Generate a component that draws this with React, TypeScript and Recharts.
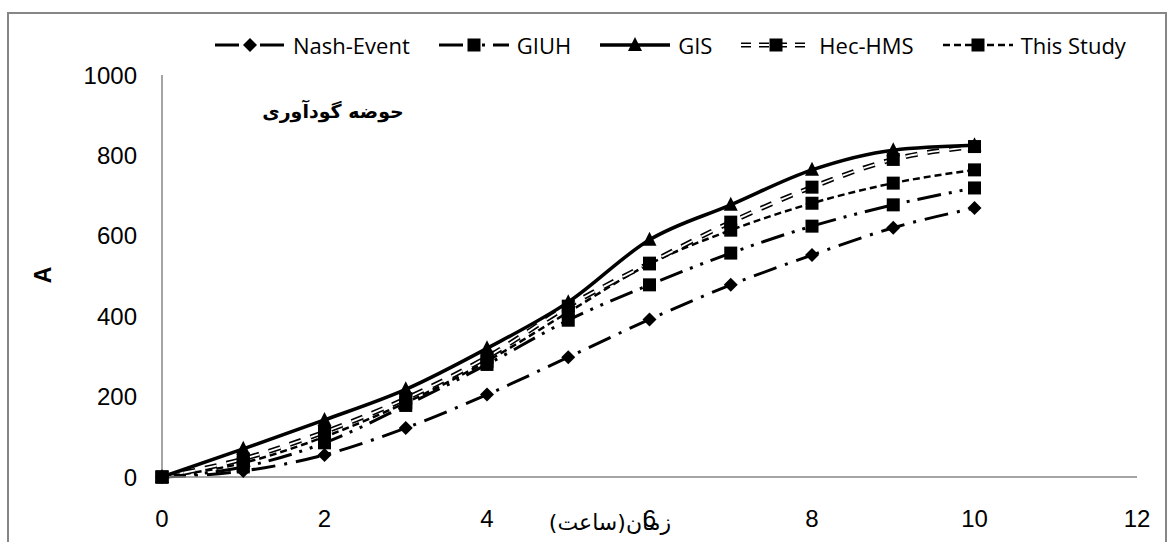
import { LineChart, Line, XAxis, YAxis } from 'recharts';

// hours (x) and the five hydrograph series
const hours = [0, 1, 2, 3, 4, 5, 6, 7, 8, 9, 10];
const nashEvent = [0, 15, 55, 122, 205, 298, 392, 478, 552, 620, 669];
const giuh = [0, 25, 85, 178, 280, 390, 478, 557, 624, 677, 719];
const gis = [0, 70, 142, 218, 320, 435, 590, 677, 764, 813, 825];
const hecHms = [0, 45, 112, 195, 298, 425, 532, 634, 721, 790, 822];
const thisStudy = [0, 35, 100, 185, 288, 410, 530, 614, 681, 731, 764];

const xTicks = [0, 2, 4, 6, 8, 10, 12];
const yTicks = [0, 200, 400, 600, 800, 1000];

const chartTitle = 'حوضه گودآوری';
const xLabel = 'زمان(ساعت)';
const yLabel = 'A';

const chartData = hours.map((hour, i) => ({
  hour,
  nash: nashEvent[i],
  giuh: giuh[i],
  gis: gis[i],
  hec: hecHms[i],
  study: thisStudy[i],
}));

const AXIS_GREY = '#868686';
const TICK_FONT = { fontSize: 24, fill: '#000', fontFamily: '"Liberation Sans", Arial, sans-serif' };

type DotProps = { cx?: number; cy?: number };

const SquareDot = ({ cx, cy }: DotProps) => {
  if (cx == null || cy == null) return null;
  return <rect x={cx - 6.5} y={cy - 6.5} width={13} height={13} fill="#000" />;
};

const TriangleDot = ({ cx, cy }: DotProps) => {
  if (cx == null || cy == null) return null;
  return <path d={`M${cx},${cy - 8} L${cx + 7},${cy + 6} L${cx - 7},${cy + 6} Z`} fill="#000" />;
};

const DiamondDot = ({ cx, cy }: DotProps) => {
  if (cx == null || cy == null) return null;
  return <path d={`M${cx},${cy - 7} L${cx + 7},${cy} L${cx},${cy + 7} L${cx - 7},${cy} Z`} fill="#000" />;
};

interface LegendItem {
  name: string;
  dash?: string;
  width: number;
  hollow?: boolean;
  marker: 'diamond' | 'square' | 'triangle';
}

const legendItems: LegendItem[] = [
  { name: 'Nash-Event', dash: '24 9 3 9', width: 3, marker: 'diamond' },
  { name: 'GIUH', dash: '24 8 3 8 3 8', width: 3, marker: 'square' },
  { name: 'GIS', width: 3.5, marker: 'triangle' },
  { name: 'Hec-HMS', dash: '10 8', width: 5, hollow: true, marker: 'square' },
  { name: 'This Study', dash: '7 4', width: 2.5, marker: 'square' },
];

const LegendSymbol = ({ item }: { item: LegendItem }) => (
  <svg width={70} height={20}>
    <line x1={0} y1={10} x2={70} y2={10} stroke="#000" strokeWidth={item.width} strokeDasharray={item.dash} />
    {item.hollow && (
      <line x1={0} y1={10} x2={70} y2={10} stroke="#fff" strokeWidth={1.8} strokeDasharray={item.dash} />
    )}
    {item.marker === 'diamond' && <DiamondDot cx={35} cy={10} />}
    {item.marker === 'square' && <SquareDot cx={35} cy={10} />}
    {item.marker === 'triangle' && <TriangleDot cx={35} cy={10} />}
  </svg>
);

const App = () => {
  return (
    <div style={{ position: 'absolute', left: 0, top: 0, width: 1173, height: 542, background: '#fff', overflow: 'hidden' }}>
      <div
        style={{
          position: 'absolute',
          left: 7,
          top: 12,
          width: 1160,
          height: 560,
          border: `2px solid ${AXIS_GREY}`,
          boxSizing: 'border-box',
        }}
      />
      <div
        style={{
          position: 'absolute',
          left: 215,
          top: 30,
          display: 'flex',
          alignItems: 'center',
          gap: 29,
          fontFamily: '"Open Sans", sans-serif',
          fontSize: 22,
          color: '#000',
          whiteSpace: 'nowrap',
        }}
      >
        {legendItems.map((item) => (
          <div key={item.name} style={{ display: 'flex', alignItems: 'center', gap: 8 }}>
            <LegendSymbol item={item} />
            <span>{item.name}</span>
          </div>
        ))}
      </div>
      <div
        style={{
          position: 'absolute',
          left: 333,
          top: 100,
          transform: 'translateX(-50%)',
          direction: 'rtl',
          fontFamily: '"DejaVu Sans", sans-serif',
          fontWeight: 'bold',
          fontSize: 19,
          whiteSpace: 'nowrap',
        }}
      >
        {chartTitle}
      </div>
      <div
        style={{
          position: 'absolute',
          left: 43,
          top: 275,
          transform: 'translate(-50%, -50%) rotate(-90deg)',
          fontFamily: '"Liberation Sans", Arial, sans-serif',
          fontWeight: 'bold',
          fontSize: 23,
        }}
      >
        {yLabel}
      </div>
      <div style={{ position: 'absolute', left: 0, top: 0 }}>
        <LineChart width={1173} height={542} data={chartData} margin={{ top: 75, right: 36, bottom: 0, left: 0 }}>
          <XAxis
            dataKey="hour"
            type="number"
            domain={[0, 12]}
            ticks={xTicks}
            interval={0}
            height={65}
            tickLine={false}
            tickSize={0}
            tickMargin={33}
            axisLine={{ stroke: AXIS_GREY, strokeWidth: 1.5 }}
            tick={TICK_FONT}
          />
          <YAxis
            type="number"
            domain={[0, 1000]}
            ticks={yTicks}
            interval={0}
            width={162}
            tickLine={false}
            tickSize={0}
            tickMargin={25}
            axisLine={{ stroke: AXIS_GREY, strokeWidth: 1.5 }}
            tick={TICK_FONT}
          />
          <Line type="monotone" dataKey="nash" stroke="#000" strokeWidth={3} strokeDasharray="24 9 3 9" dot={<DiamondDot />} isAnimationActive={false} />
          <Line type="monotone" dataKey="giuh" stroke="#000" strokeWidth={3} strokeDasharray="24 8 3 8 3 8" dot={<SquareDot />} isAnimationActive={false} />
          <Line type="monotone" dataKey="study" stroke="#000" strokeWidth={2.5} strokeDasharray="7 4" dot={<SquareDot />} isAnimationActive={false} />
          <Line type="monotone" dataKey="hec" stroke="#000" strokeWidth={5} strokeDasharray="12 10" dot={false} isAnimationActive={false} />
          <Line type="monotone" dataKey="hec" stroke="#fff" strokeWidth={1.8} strokeDasharray="12 10" dot={<SquareDot />} isAnimationActive={false} />
          <Line type="monotone" dataKey="gis" stroke="#000" strokeWidth={3.5} dot={<TriangleDot />} isAnimationActive={false} />
        </LineChart>
      </div>
      <div
        style={{
          position: 'absolute',
          left: 610,
          top: 522,
          transform: 'translate(-50%, -50%)',
          direction: 'rtl',
          fontFamily: '"DejaVu Sans", sans-serif',
          fontSize: 22,
          whiteSpace: 'nowrap',
        }}
      >
        {xLabel}
      </div>
    </div>
  );
};

export default App;
